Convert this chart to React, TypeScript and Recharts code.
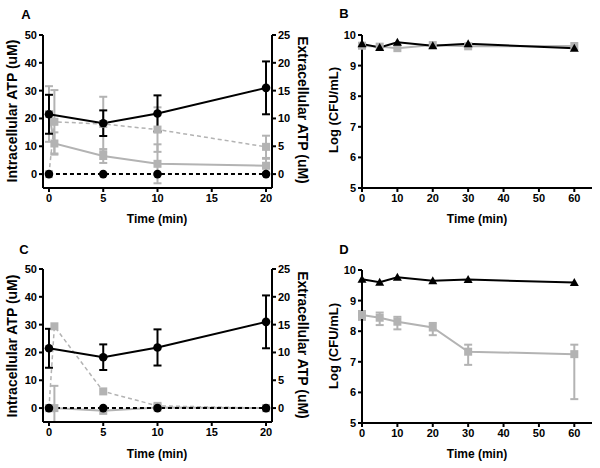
import { ComposedChart, ErrorBar, Line, XAxis, YAxis } from "recharts";

// ATP panels (A, C): time in min
const TIME_INTRA = [0, 5, 10, 20];
const INTRA_ATP = [21.5, 18.3, 21.8, 31];
const INTRA_ATP_ERR = [7, 4.6, 6.5, 9.5];
const CONTROL_ZERO = [0, 0, 0, 0];

const TIME_EXTRA = [0, 0.5, 5, 10, 20];
const A_EXTRA_SOLID = [10.8, 5.5, 3.25, 1.85, 1.5];
const A_EXTRA_SOLID_ERR = [5, 2, 1.25, 3.5, 1.25];
const A_EXTRA_DASHED = [0, 9.4, 9, 8, 4.9];
const A_EXTRA_DASHED_ERR = [0, 5.7, 4.9, 4, 2];

const C_EXTRA_SOLID = [0, 0, -0.5, 0.1, 0];
const C_EXTRA_SOLID_ERR: (number | number[])[] = [0, [2.5, 4], 0, 0, 0];
const C_EXTRA_DASHED = [0, 14.7, 3, 0.4, 0];
const C_EXTRA_DASHED_ERR = [0, 0, 0, 0, 0];

// CFU panels (B, D)
const TIME_CFU = [0, 5, 10, 20, 30, 60];
const B_BLACK = [9.71, 9.59, 9.76, 9.65, 9.71, 9.57];
const B_GRAY = [9.65, 9.62, 9.57, 9.67, 9.63, 9.64];
const D_BLACK = [9.7, 9.6, 9.76, 9.65, 9.69, 9.59];
const D_GRAY = [8.53, 8.44, 8.31, 8.12, 7.33, 7.25];
const D_GRAY_ERR_LOW = [0.16, 0.24, 0.25, 0.25, 0.43, 1.47];
const D_GRAY_ERR_HIGH = [0.13, 0.17, 0.16, 0.15, 0.23, 0.31];

const ATP_LEFT_TICKS = [0, 10, 20, 30, 40, 50];
const ATP_RIGHT_TICKS = [0, 5, 10, 15, 20, 25];
const ATP_X_TICKS = [0, 5, 10, 15, 20];
const CFU_Y_TICKS = [5, 6, 7, 8, 9, 10];
const CFU_X_TICKS = [0, 10, 20, 30, 40, 50, 60];

const FONT = '"Liberation Sans", Arial, Helvetica, sans-serif';
const GRAY = "#b3b3b3";
const tick = { fontSize: 11, fontWeight: 700, fill: "#000", fontFamily: FONT };
const axisLine = { stroke: "#000", strokeWidth: 2 };

const series = (t: number[], v: number[], e?: any[]) =>
  t.map((x, i) => ({ t: x, v: v[i], e: e ? e[i] : 0 }));

const Square = (p: any) => (
  <rect key={`sq${p.index}`} x={p.cx - 4} y={p.cy - 4} width={8} height={8} fill={GRAY} />
);
const Dot = (p: any) => <circle key={`c${p.index}`} cx={p.cx} cy={p.cy} r={4.3} fill="#000" />;
const Tri = (p: any) => (
  <path
    key={`t${p.index}`}
    d={`M${p.cx},${p.cy - 4.5}L${p.cx + 4.5},${p.cy + 3.5}L${p.cx - 4.5},${p.cy + 3.5}Z`}
    fill="#000"
  />
);

function Title({ x, y, angle = 0, size = 12, children }: any) {
  return (
    <div
      style={{
        position: "absolute",
        left: x,
        top: y,
        transform: `translate(-50%, -50%) rotate(${angle}deg)`,
        whiteSpace: "nowrap",
        fontFamily: FONT,
        fontWeight: 700,
        fontSize: size,
        lineHeight: 1,
        color: "#000",
      }}
    >
      {children}
    </div>
  );
}

function AtpPanel({ top, solid, solidErr, dashed, dashedErr }: any) {
  return (
    <div style={{ position: "absolute", left: 0, top }}>
      <ComposedChart width={300} height={225} margin={{ top: 35, right: 0, bottom: 7, left: 0 }}>
        <XAxis
          type="number"
          dataKey="t"
          domain={[-0.55, 20.55]}
          ticks={ATP_X_TICKS}
          height={30}
          tickSize={4}
          axisLine={axisLine}
          tickLine={axisLine}
          tick={tick}
        />
        <YAxis
          yAxisId="l"
          domain={[-5, 50]}
          ticks={ATP_LEFT_TICKS}
          width={43}
          tickSize={4}
          axisLine={axisLine}
          tickLine={axisLine}
          tick={tick}
        />
        <YAxis
          yAxisId="r"
          orientation="right"
          domain={[-2.5, 25]}
          ticks={ATP_RIGHT_TICKS}
          width={28}
          tickSize={4}
          axisLine={axisLine}
          tickLine={axisLine}
          tick={tick}
        />
        <Line
          yAxisId="r"
          data={series(TIME_EXTRA, dashed, dashedErr)}
          dataKey="v"
          stroke={GRAY}
          strokeWidth={1.5}
          strokeDasharray="4 3"
          dot={Square}
          isAnimationActive={false}
        >
          <ErrorBar dataKey="e" direction="y" width={4} stroke={GRAY} strokeWidth={2} />
        </Line>
        <Line
          yAxisId="r"
          data={series(TIME_EXTRA, solid, solidErr)}
          dataKey="v"
          stroke={GRAY}
          strokeWidth={2}
          dot={Square}
          isAnimationActive={false}
        >
          <ErrorBar dataKey="e" direction="y" width={4} stroke={GRAY} strokeWidth={2} />
        </Line>
        <Line
          yAxisId="l"
          data={series(TIME_INTRA, CONTROL_ZERO)}
          dataKey="v"
          stroke="#000"
          strokeWidth={2}
          strokeDasharray="4 3"
          dot={Dot}
          isAnimationActive={false}
        />
        <Line
          yAxisId="l"
          data={series(TIME_INTRA, INTRA_ATP, INTRA_ATP_ERR)}
          dataKey="v"
          stroke="#000"
          strokeWidth={2}
          dot={Dot}
          isAnimationActive={false}
        >
          <ErrorBar dataKey="e" direction="y" width={4} stroke="#000" strokeWidth={2} />
        </Line>
      </ComposedChart>
    </div>
  );
}

function CfuPanel({ top, black, gray, grayErr }: any) {
  return (
    <div style={{ position: "absolute", left: 300, top }}>
      <ComposedChart width={300} height={225} margin={{ top: 35, right: 8, bottom: 7, left: 0 }}>
        <XAxis
          type="number"
          dataKey="t"
          domain={[0, 65]}
          ticks={CFU_X_TICKS}
          height={30}
          tickSize={4}
          axisLine={axisLine}
          tickLine={axisLine}
          tick={tick}
        />
        <YAxis
          domain={[5, 10]}
          ticks={CFU_Y_TICKS}
          width={62}
          tickSize={4}
          axisLine={axisLine}
          tickLine={axisLine}
          tick={tick}
        />
        <Line
          data={series(TIME_CFU, gray, grayErr)}
          dataKey="v"
          stroke={GRAY}
          strokeWidth={2}
          dot={Square}
          isAnimationActive={false}
        >
          <ErrorBar dataKey="e" direction="y" width={4} stroke={GRAY} strokeWidth={2} />
        </Line>
        <Line
          data={series(TIME_CFU, black)}
          dataKey="v"
          stroke="#000"
          strokeWidth={2}
          dot={Tri}
          isAnimationActive={false}
        />
      </ComposedChart>
    </div>
  );
}

export default function App() {
  const dErr = D_GRAY_ERR_LOW.map((lo, i) => [lo, D_GRAY_ERR_HIGH[i]]);
  return (
    <div
      style={{
        position: "absolute",
        left: 0,
        top: 0,
        width: 600,
        height: 468,
        background: "#fff",
        overflow: "hidden",
      }}
    >
      <AtpPanel
        top={0}
        solid={A_EXTRA_SOLID}
        solidErr={A_EXTRA_SOLID_ERR}
        dashed={A_EXTRA_DASHED}
        dashedErr={A_EXTRA_DASHED_ERR}
      />
      <AtpPanel
        top={234}
        solid={C_EXTRA_SOLID}
        solidErr={C_EXTRA_SOLID_ERR}
        dashed={C_EXTRA_DASHED}
        dashedErr={C_EXTRA_DASHED_ERR}
      />
      <CfuPanel top={0} black={B_BLACK} gray={B_GRAY} />
      <CfuPanel top={235} black={D_BLACK} gray={D_GRAY} grayErr={dErr} />

      <Title x={26} y={14} size={13}>A</Title>
      <Title x={344} y={13} size={13}>B</Title>
      <Title x={24} y={249} size={13}>C</Title>
      <Title x={344} y={249} size={13}>D</Title>

      <Title x={12} y={111} angle={-90} size={14}>Intracellular ATP (uM)</Title>
      <Title x={303} y={110} angle={90} size={14}>Extracellular ATP (uM)</Title>
      <Title x={12} y={346} angle={-90} size={14}>Intracellular ATP (uM)</Title>
      <Title x={303} y={345} angle={90} size={14}>Extracellular ATP (uM)</Title>
      <Title x={333} y={110} angle={-90} size={13}>Log (CFU/mL)</Title>
      <Title x={333} y={346} angle={-90} size={13}>Log (CFU/mL)</Title>

      <Title x={157} y={219} size={12}>Time (min)</Title>
      <Title x={477} y={219} size={12}>Time (min)</Title>
      <Title x={157} y={454} size={12}>Time (min)</Title>
      <Title x={477} y={454} size={12}>Time (min)</Title>
    </div>
  );
}
